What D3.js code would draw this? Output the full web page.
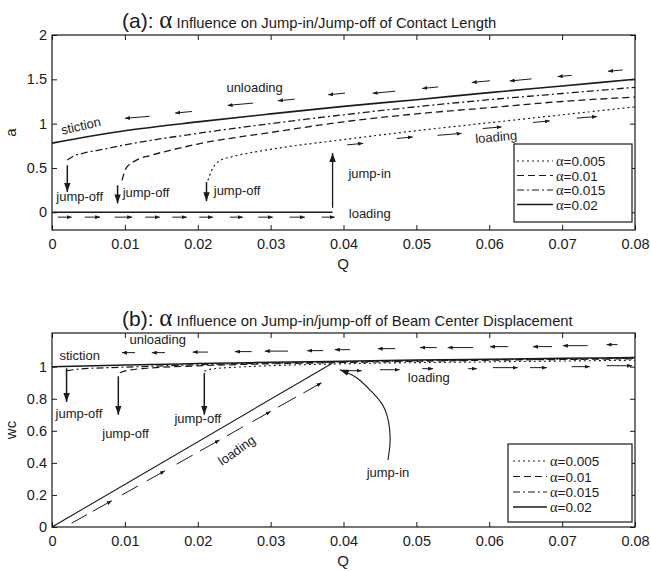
<!DOCTYPE html>
<html>
<head>
<meta charset="utf-8">
<script src="https://cdn.jsdelivr.net/npm/d3@7"></script>
<style>
  body { margin: 0; background: #fff; }
  text { font-family: "Liberation Sans", Arial, sans-serif; fill: #1a1a1a; }
</style>
</head>
<body>
<script>
 // ---- data ----
 var qTicks = [0, 0.01, 0.02, 0.03, 0.04, 0.05, 0.06, 0.07, 0.08];
 var aTicks = [0, 0.5, 1, 1.5, 2];
 var wcTicks = [0, 0.2, 0.4, 0.6, 0.8, 1];
 var alphas = ['0.005', '0.01', '0.015', '0.02'];

 // (a) contact length a vs Q, one list per alpha
 var a005 = [[0.0214,0.36],[0.0219,0.47],[0.0228,0.57],[0.0246,0.625],[0.0265,0.66],[0.03,0.71],[0.04,0.82],[0.05,0.92],[0.06,1.01],[0.07,1.1],[0.08,1.19]];
 var a01  = [[0.0096,0.36],[0.0102,0.5],[0.0114,0.58],[0.0137,0.645],[0.0173,0.72],[0.02,0.77],[0.03,0.9],[0.04,1.02],[0.05,1.11],[0.06,1.18],[0.07,1.25],[0.08,1.3]];
 var a015 = [[0.0021,0.59],[0.003,0.635],[0.0045,0.67],[0.007,0.71],[0.01,0.76],[0.02,0.89],[0.03,1.0],[0.04,1.1],[0.05,1.19],[0.06,1.27],[0.07,1.34],[0.08,1.41]];
 var a02  = [[0,0.78],[0.005,0.855],[0.01,0.92],[0.02,1.02],[0.03,1.11],[0.04,1.195],[0.05,1.27],[0.06,1.35],[0.07,1.425],[0.08,1.5]];
 var aLoad = [[0,0],[0.0385,0]];

 // (b) beam center displacement wc vs Q
 var w005 = [[0.0209,0.972],[0.022,0.986],[0.025,0.996],[0.03,1.006],[0.04,1.018],[0.06,1.03],[0.08,1.04]];
 var w01  = [[0.0093,0.962],[0.0105,0.978],[0.013,0.99],[0.02,1.005],[0.04,1.026],[0.06,1.04],[0.08,1.049]];
 var w015 = [[0.002,0.975],[0.004,0.986],[0.01,0.997],[0.02,1.012],[0.04,1.03],[0.06,1.043],[0.08,1.052]];
 var w02  = [[0,1.0],[0.01,1.01],[0.02,1.019],[0.03,1.027],[0.04,1.034],[0.05,1.041],[0.06,1.047],[0.07,1.052],[0.08,1.057]];
 var wLoad = [[0,0],[0.0384,1.02]];

 // little direction arrows [q1, v1, q2, v2], head at (q2, v2)
 var aUnloadArrows = [[0.0134,1.083,0.0100,1.060],[0.0192,1.137,0.0169,1.119],[0.0276,1.232,0.0241,1.206],[0.0333,1.276,0.0310,1.258],
   [0.0402,1.344,0.0379,1.326],[0.0471,1.366,0.0440,1.342],[0.0530,1.414,0.0508,1.397],[0.0601,1.484,0.0576,1.464],
   [0.0658,1.505,0.0628,1.481],[0.0713,1.545,0.0694,1.531],[0.0783,1.606,0.0763,1.590]];
 var aLoadArrows = [[0.0405,0.76,0.0427,0.778],[0.0473,0.832,0.0495,0.85],[0.0529,0.868,0.0562,0.89],[0.0591,0.945,0.0617,0.963],
   [0.066,1.013,0.0683,1.031],[0.072,1.063,0.0748,1.08]];
 var aBaseArrows = [[0.0008,-0.055,0.0027,-0.055],[0.0045,-0.055,0.0066,-0.055],[0.0086,-0.055,0.011,-0.055],[0.0128,-0.055,0.0148,-0.055],
   [0.0165,-0.055,0.0185,-0.055],[0.0202,-0.055,0.0221,-0.055],[0.0244,-0.055,0.0262,-0.055],[0.0283,-0.055,0.0303,-0.055],
   [0.0326,-0.055,0.0347,-0.055],[0.037,-0.055,0.0388,-0.055]];
 var aJumpOff = [[0.0021,0.53,0.0021,0.23],[0.009,0.305,0.009,0.1],[0.0212,0.34,0.0212,0.125]];
 var aJumpIn = [[0.0385,0.05,0.0385,0.67]];

 var wUnloadArrows = [[0.0114,1.0875,0.0096,1.0875],[0.0155,1.0875,0.0137,1.0875],[0.0214,1.091,0.0193,1.091],[0.0274,1.094,0.0251,1.094],
   [0.0324,1.097,0.0292,1.097],[0.0372,1.1,0.035,1.1],[0.0409,1.106,0.0388,1.106],[0.0471,1.1125,0.0447,1.1125],
   [0.0528,1.119,0.0505,1.119],[0.0578,1.119,0.0543,1.119],[0.0626,1.125,0.0601,1.125],[0.0686,1.125,0.066,1.125],
   [0.0735,1.131,0.0701,1.131],[0.0776,1.1375,0.0761,1.1375]];
 var wLoadArrows = [[0.0405,0.975,0.0425,0.975],[0.045,0.981,0.0477,0.981],[0.0508,0.9875,0.0523,0.9875],[0.0571,0.9875,0.0583,0.9875],
   [0.0605,0.994,0.0639,0.994],[0.0656,0.994,0.0679,0.994],[0.0713,1.0,0.0738,1.0],[0.0761,1.006,0.0796,1.006]];
 var wDiagArrows = [[0.0027,0.024,0.0048,0.077],[0.0056,0.098,0.0082,0.164],[0.0096,0.2,0.0118,0.256],[0.013,0.287,0.0155,0.351],
   [0.0171,0.392,0.0193,0.448],[0.0203,0.474,0.023,0.543],[0.024,0.568,0.0262,0.625],[0.0275,0.657,0.03,0.721],
   [0.031,0.747,0.0335,0.811],[0.0345,0.836,0.037,0.9]];
 var wJumpOff = [[0.002,0.99,0.002,0.78],[0.0091,0.94,0.0091,0.70],[0.0209,0.96,0.0209,0.70]];
 var wJumpInCurve = [[0.0461,0.419],[0.0464,0.5625],[0.0457,0.731],[0.044,0.8375],[0.0418,0.931],[0.0395,0.981]];

 // ---- styles ----
 var ink = '#1a1a1a';
 var dashes = ['2,3', '7,4', '7,3,2,3', null];
 var widths = [1.2, 1.3, 1.3, 1.6];

 var svg = d3.select('body').append('svg').attr('width', 651).attr('height', 571);
 var defs = svg.append('defs');

 function marker(id, len, half){
     defs.append('marker').attr('id', id)
	 .attr('markerUnits', 'userSpaceOnUse')
	 .attr('markerWidth', len).attr('markerHeight', half * 2)
	 .attr('refX', len).attr('refY', half).attr('orient', 'auto')
	 .append('path')
	 .attr('d', 'M0,0L' + len + ',' + half + 'L0,' + (half * 2) + 'Z')
	 .attr('fill', ink);
 }
 marker('small', 5, 2);
 marker('big', 9, 3.2);

 // builds one axes box, MATLAB style (ticks inside, box on)
 function panel(id, top, bottom, yDomain, yTicks, yLabel){
     var x = d3.scaleLinear().domain([0, 0.08]).range([52, 635]);
     var y = d3.scaleLinear().domain(yDomain).range([bottom, top]);
     var g = svg.append('g');

     defs.append('clipPath').attr('id', id)
	 .append('rect').attr('x', 52).attr('y', top).attr('width', 583).attr('height', bottom - top);

     var fmt = function(d){ return String(d); };
     var axes = [
	 [d3.axisBottom(x).tickValues(qTicks).tickFormat(fmt).tickPadding(8.5), 0, bottom],
	 [d3.axisTop(x).tickValues(qTicks).tickFormat(''), 0, top],
	 [d3.axisLeft(y).tickValues(yTicks).tickFormat(fmt).tickPadding(5), 52, 0],
	 [d3.axisRight(y).tickValues(yTicks).tickFormat(''), 635, 0]
     ];
     axes.forEach(function(a){
	 var ag = g.append('g').attr('transform', 'translate(' + a[1] + ',' + a[2] + ')')
		   .call(a[0].tickSizeInner(-5).tickSizeOuter(0));
	 ag.attr('font-family', null).attr('font-size', 14.5);
	 ag.select('.domain').remove();
	 ag.selectAll('line').attr('stroke', ink).attr('stroke-width', 1);
	 ag.selectAll('text').attr('fill', ink);
     });

     g.append('rect').attr('x', 52).attr('y', top).attr('width', 583).attr('height', bottom - top)
      .attr('fill', 'none').attr('stroke', ink).attr('stroke-width', 1.2);

     g.append('text').attr('x', 343).attr('y', bottom + 39).attr('text-anchor', 'middle')
      .attr('font-size', 15).text('Q');
     g.append('text').attr('transform', 'translate(16,' + ((top + bottom) / 2) + ') rotate(-90)')
      .attr('text-anchor', 'middle').attr('font-size', 15).text(yLabel);

     var plot = g.append('g').attr('clip-path', 'url(#' + id + ')');
     return {x: x, y: y, g: g, plot: plot};
 }

 function title(ty, letter, rest){
     var t = svg.append('text').attr('x', 122).attr('y', ty);
     t.append('tspan').attr('font-size', 21).text('(' + letter + '): ');
     t.append('tspan').attr('font-size', 25).attr('font-family', '"Liberation Serif", serif').text('α');
     t.append('tspan').attr('font-size', 14.8).text(' ' + rest);
 }

 // dash: index into dashes for each series, or the series index by default
 function curves(p, series, lw, dash){
     var line = d3.line().x(function(d){ return p.x(d[0]); }).y(function(d){ return p.y(d[1]); })
		  .curve(d3.curveMonotoneX);
     series.forEach(function(s, i){
	 var di = dash ? dash[i] : i;
	 p.plot.append('path').datum(s)
	  .attr('d', line).attr('fill', 'none').attr('stroke', ink)
	  .attr('stroke-width', lw ? lw[i] : widths[i])
	  .attr('stroke-dasharray', dashes[di]);
     });
 }

 function arrows(p, list, head, sw){
     p.plot.selectAll(null).data(list).enter().append('line')
      .attr('x1', function(d){ return p.x(d[0]); }).attr('y1', function(d){ return p.y(d[1]); })
      .attr('x2', function(d){ return p.x(d[2]); }).attr('y2', function(d){ return p.y(d[3]); })
      .attr('stroke', ink).attr('stroke-width', sw)
      .attr('marker-end', function(d, i){ return head === 'alt' ? (i % 2 ? 'url(#small)' : null) : 'url(#' + head + ')'; });
 }

 function notes(p, list){
     list.forEach(function(n){
	 var px = p.x(n[1]), py = p.y(n[2]);
	 p.g.append('text').attr('transform', 'translate(' + px + ',' + py + ') rotate(' + (n[3] || 0) + ')')
	  .attr('text-anchor', 'middle').attr('font-size', 13).text(n[0]);
     });
 }

 function legend(x0, y0, w, h, sx0, sx1, tx, rows){
     var g = svg.append('g');
     g.append('rect').attr('x', x0).attr('y', y0).attr('width', w).attr('height', h)
      .attr('fill', '#fff').attr('stroke', ink).attr('stroke-width', 1.2);
     alphas.forEach(function(a, i){
	 var yy = rows[i];
	 g.append('line').attr('x1', sx0).attr('x2', sx1).attr('y1', yy).attr('y2', yy)
	  .attr('stroke', ink).attr('stroke-width', widths[i] - 0.1).attr('stroke-dasharray', dashes[i]);
	 var t = g.append('text').attr('x', tx).attr('y', yy + 5).attr('font-size', 13.5);
	 t.append('tspan').attr('font-family', '"Liberation Serif", serif').attr('font-size', 14.5).text('α');
	 t.append('tspan').text('=' + a);
     });
 }

 // ---- (a) ----
 title(28, 'a', 'Influence on Jump-in/Jump-off of Contact Length');
 var pa = panel('clipA', 35, 230, [-0.2, 2], aTicks, 'a');
 curves(pa, [a005, a01, a015, a02]);
 curves(pa, [aLoad], [1.3], [3]);
 arrows(pa, aUnloadArrows, 'small', 1);
 arrows(pa, aLoadArrows, 'small', 1);
 arrows(pa, aBaseArrows, 'small', 1);
 arrows(pa, aJumpOff, 'big', 1.5);
 arrows(pa, aJumpIn, 'big', 1.3);
 notes(pa, [
     ['stiction', 0.0041, 0.925, -13],
     ['unloading', 0.0278, 1.36],
     ['jump-off', 0.0038, 0.125],
     ['jump-off', 0.0129, 0.17],
     ['jump-off', 0.0254, 0.19],
     ['jump-in', 0.0436, 0.385],
     ['loading', 0.0436, -0.068],
     ['loading', 0.061, 0.8, -5]
 ]);
 legend(514, 144, 118, 78, 517, 553, 556, [161, 175.5, 190, 204.5]);

 // ---- (b) ----
 title(326, 'b', 'Influence on Jump-in/jump-off of Beam Center Displacement');
 var pb = panel('clipB', 333, 527, [0, 1.21], wcTicks, 'wc');
 curves(pb, [w005, w01, w015, w02], [1.1, 1.2, 1.2, 1.5]);
 curves(pb, [wLoad], [1.1], [3]);
 arrows(pb, wUnloadArrows, 'small', 1);
 arrows(pb, wLoadArrows, 'small', 1);
 arrows(pb, wDiagArrows, 'alt', 1);
 arrows(pb, wJumpOff, 'big', 1.5);
 pb.plot.append('path').datum(wJumpInCurve)
   .attr('d', d3.line().x(function(d){ return pb.x(d[0]); }).y(function(d){ return pb.y(d[1]); }).curve(d3.curveNatural))
   .attr('fill', 'none').attr('stroke', ink).attr('stroke-width', 1.1).attr('marker-end', 'url(#big)');
 notes(pb, [
     ['stiction', 0.0038, 1.04],
     ['unloading', 0.0145, 1.14],
     ['jump-off', 0.0037, 0.68],
     ['jump-off', 0.0101, 0.556],
     ['jump-off', 0.0200, 0.65],
     ['loading', 0.0257, 0.455, -35],
     ['loading', 0.0517, 0.906],
     ['jump-in', 0.0461, 0.31]
 ]);
 legend(508, 444, 124, 78, 513, 547, 550, [461, 476.5, 492, 507]);
</script>
</body>
</html>
